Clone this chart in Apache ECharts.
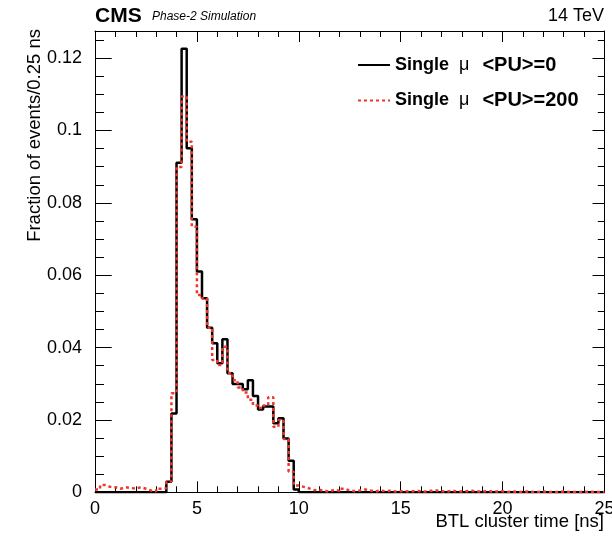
<!DOCTYPE html>
<html><head><meta charset="utf-8">
<script src="https://cdn.jsdelivr.net/npm/echarts@6/dist/echarts.min.js"></script>
<style>html,body{margin:0;padding:0;background:#fff}#c{width:612px;height:536px}</style>
</head><body><div id="c"></div>
<script>
// ---- data ----
const binWidth = 0.25;
const xMin = 0, xMax = 25;
const yMax = 0.1275;
const seriesNames = ['Single μ <PU>=0', 'Single μ <PU>=200'];
// fraction of events per 0.25 ns bin, <PU>=0
const pu0 = [
  0,0,0,0,0,0,0,0,0,0,0,0,0,0,
  0.0029,0.0218,0.0911,0.1226,0.0951,0.0755,0.0610,0.0536,0.0455,0.0412,
  0.0357,0.0423,0.0329,0.0299,0.0299,0.0285,0.0310,0.0266,0.0229,0.0237,
  0.0237,0.0191,0.0205,0.0149,0.0087,0.0008,
  0,0,0,0,0,0,0,0,0,0,0,0,0,0,0,0,0,0,0,0,
  0,0,0,0,0,0,0,0,0,0,0,0,0,0,0,0,0,0,0,0,
  0,0,0,0,0,0,0,0,0,0,0,0,0,0,0,0,0,0,0,0
];
// fraction of events per 0.25 ns bin, <PU>=200
const pu200 = [
  0.0008,0.0020,0.0015,0.0014,0.0010,0.0014,0.0012,0.0010,0.0014,0.0010,0.0005,0.0003,0.0010,0.0011,
  0.0030,0.0274,0.0899,0.1094,0.0969,0.0734,0.0545,0.0536,0.0455,0.0366,
  0.0352,0.0402,0.0330,0.0310,0.0290,0.0276,0.0256,0.0240,0.0233,0.0240,
  0.0263,0.0181,0.0200,0.0147,0.0057,0.0019,
  0.0015,0.0011,0.0006,0.0007,0.0004,0.0002,0.0007,0.0004,0.0010,0.0005,
  0.0003,0.0005,0.0008,0.0005,0.0002,0.0005,0.0003,0.0004,0.0002,0.0003,
  0.0003,0.0002,0.0004,0.0003,0.0002,0.0004,0.0005,0.0003,0.0002,0.0004,
  0.0003,0.0002,0.0003,0.0004,0.0002,0.0002,0.0003,0.0002,0.0002,0.0003,
  0.0001,0.0002,0.0001,0.0001,0.0002,0.0001,0.0001,0.0002,0.0001,0.0001,
  0.0001,0.0002,0.0001,0.0001,0.0001,0.0001,0.0002,0.0001,0.0001,0.0001
];

function toSteps(vals) {
  const d = vals.map((v, i) => [xMin + i * binWidth, v]);
  d.push([xMax, vals[vals.length - 1]]);
  return d;
}

const FONT = '"Liberation Sans", Arial, Helvetica, sans-serif';
const RED = '#f2352b';
const chart = echarts.init(document.getElementById('c'), null, {renderer: 'canvas'});

const tickStyle = {color: '#000', width: 1};
function xAx(pos, showLabel) {
  return {
    type: 'value', position: pos, min: xMin, max: xMax, interval: 5,
    axisLine: {show: true, onZero: false, lineStyle: {color: '#000', width: 1}},
    axisTick: {show: true, inside: true, length: 11, lineStyle: tickStyle},
    minorTick: {show: true, splitNumber: 5, length: 6, lineStyle: tickStyle},
    splitLine: {show: false}, minorSplitLine: {show: false},
    axisLabel: {show: showLabel, margin: 8, color: '#000', fontFamily: FONT, fontSize: 18},
  };
}
function yAx(pos, interval, tickLen, showLabel, showLine) {
  return {
    type: 'value', position: pos, min: 0, max: yMax, interval: interval,
    axisLine: {show: showLine, onZero: false, lineStyle: {color: '#000', width: 1}},
    axisTick: {show: true, inside: true, length: tickLen, lineStyle: tickStyle},
    splitLine: {show: false},
    axisLabel: {show: showLabel, margin: 13, color: '#000', fontFamily: FONT, fontSize: 18,
      showMaxLabel: false,
      formatter: v => (v === 0 ? '0' : String(+v.toFixed(3)))}
  };
}

chart.setOption({
  animation: false,
  backgroundColor: '#fff',
  grid: {left: 95, right: 7.5, top: 31, bottom: 43.7, containLabel: false, outerBoundsMode: 'none'},
  xAxis: [xAx('bottom', true), xAx('top', false)],
  yAxis: [
    yAx('left', 0.02, 16.7, true, true),
    yAx('left', 0.005, 9, false, false),
    yAx('right', 0.02, 12, false, true),
    yAx('right', 0.005, 6.7, false, false)
  ],
  legend: {
    orient: 'vertical', left: 352, top: 50, itemWidth: 32, itemHeight: 14, itemGap: 15.5,
    data: seriesNames,
    itemStyle: {opacity: 0},
    formatter: name => name === seriesNames[0]
      ? '{b|Single}{m|μ}{c|<PU>=0}' : '{b|Single}{m|μ}{c|<PU>=200}',
    textStyle: {
      rich: {
        b: {fontFamily: FONT, fontWeight: 'bold', fontSize: 18, color: '#000', lineHeight: 22},
        c: {fontFamily: FONT, fontWeight: 'bold', fontSize: 20, color: '#000', lineHeight: 22},
        m: {fontFamily: FONT, fontWeight: 'normal', fontSize: 18, color: '#000', lineHeight: 22,
            padding: [0, 13, 0, 10]}
      }
    }
  },
  series: [
    {
      name: seriesNames[0], type: 'line', step: 'end', data: toSteps(pu0),
      xAxisIndex: 0, yAxisIndex: 0, symbol: 'none', showSymbol: false,
      lineStyle: {color: '#000', width: 2.5, type: 'solid'}, itemStyle: {color: '#000'}, z: 2
    },
    {
      name: seriesNames[1], type: 'line', step: 'end', data: toSteps(pu200),
      xAxisIndex: 0, yAxisIndex: 0, symbol: 'none', showSymbol: false,
      lineStyle: {color: RED, width: 2.5, type: [3, 3]}, itemStyle: {color: RED}, z: 3
    }
  ],
  graphic: [
    {type: 'text', x: 95, y: 16, style: {text: 'CMS', font: 'bold 21px ' + FONT, fill: '#000', textVerticalAlign: 'middle'}},
    {type: 'text', x: 152, y: 17, style: {text: 'Phase-2 Simulation', font: 'italic 12px ' + FONT, fill: '#000', textVerticalAlign: 'middle'}},
    {type: 'text', x: 604, y: 16, style: {text: '14 TeV', font: '18px ' + FONT, fill: '#000', textAlign: 'right', textVerticalAlign: 'middle'}},
    {type: 'text', x: 604, y: 522, style: {text: 'BTL cluster time [ns]', font: '18.5px ' + FONT, fill: '#000', textAlign: 'right', textVerticalAlign: 'middle'}},
    {type: 'text', x: 35, y: 29, rotation: Math.PI / 2, style: {text: 'Fraction of events/0.25 ns', font: '18.5px ' + FONT, fill: '#000', textAlign: 'right', textVerticalAlign: 'middle'}}
  ]
});
</script>
</body></html>
